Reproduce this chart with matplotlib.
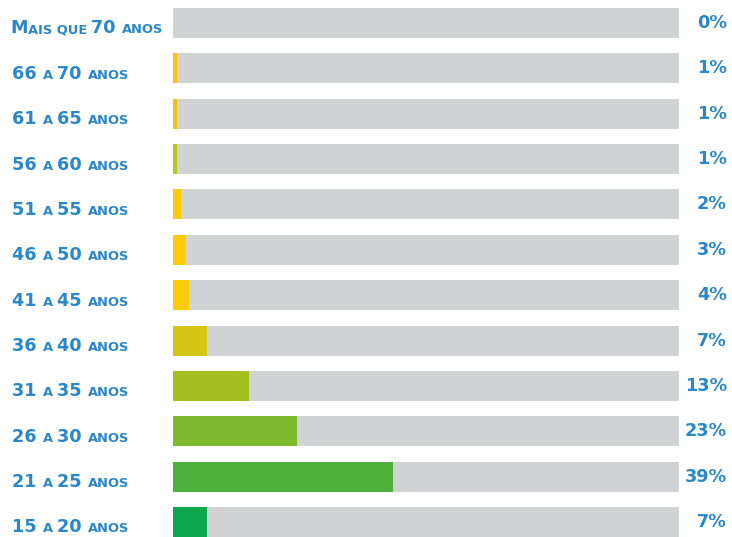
import matplotlib.pyplot as plt
from matplotlib.offsetbox import TextArea, HPacker, AnnotationBbox

# ── Data ──────────────────────────────────────────────────────
age_groups = ["Mais que 70 anos", "66 a 70 anos", "61 a 65 anos", "56 a 60 anos",
              "51 a 55 anos", "46 a 50 anos", "41 a 45 anos", "36 a 40 anos",
              "31 a 35 anos", "26 a 30 anos", "21 a 25 anos", "15 a 20 anos"]
pct_labels = ["0%", "1%", "1%", "1%", "2%", "3%", "4%", "7%", "13%", "23%", "39%", "7%"]
# bar length as drawn in the original (share of the grey track)
bar_len = [0, 0.8, 0.8, 0.8, 1.6, 2.6, 3.2, 6.7, 15.0, 24.5, 43.5, 6.7]
bar_colors = ["#FFC20E", "#FFC20E", "#E9C70E", "#B8C41F", "#FFCB05", "#FFCB05",
              "#FFCB05", "#D5C514", "#A6C11F", "#7DBA2D", "#4EB13B", "#0CA74B"]

BLUE = "#2A87C8"
GREY = "#D1D2D4"
BIG, SMALL = 12.7, 9.4

# ── Figure ────────────────────────────────────────────────────
fig = plt.figure(figsize=(7.32, 5.37), dpi=100)
ax = fig.add_axes([173 / 732, 0, 506 / 732, 1])
ypos = list(range(len(age_groups)))

ax.barh(ypos, [100] * len(ypos), height=0.66, color=GREY, zorder=1)
ax.barh(ypos, bar_len, height=0.66, color=bar_colors, zorder=2)

ax.set_xlim(0, 100)
ax.set_ylim(11.33, -0.507)
ax.axis("off")


def small_caps(s):
    # split into runs of big (caps/digits) and small (lowercase -> caps) letters
    runs = []
    for ch in s:
        big = ch.isupper() or ch.isdigit()
        if ch == " " and runs:
            big = runs[-1][1]
        if runs and runs[-1][1] == big:
            runs[-1][0] += ch
        else:
            runs.append([ch, big])
    areas = []
    for txt, big in runs:
        areas.append(TextArea(txt.upper(), textprops=dict(
            color=BLUE, fontsize=BIG if big else SMALL, fontweight="bold",
            family="DejaVu Sans")))
    return HPacker(children=areas, align="baseline", pad=0, sep=0)


for y, lab, pct in zip(ypos, age_groups, pct_labels):
    x0 = 10 if y == 0 else 12
    box = small_caps(lab)
    ab = AnnotationBbox(box, ((x0 - 173) / 506, y + 0.12),
                        xycoords=ax.get_yaxis_transform(),
                        box_alignment=(0, 0.5), frameon=False, pad=0)
    ax.add_artist(ab)
    ax.text((727 - 173) / 506, y, pct, transform=ax.get_yaxis_transform(),
            ha="right", va="center", color=BLUE, fontsize=BIG,
            fontweight="bold", family="DejaVu Sans")

fig.savefig("out.png", dpi=100)
